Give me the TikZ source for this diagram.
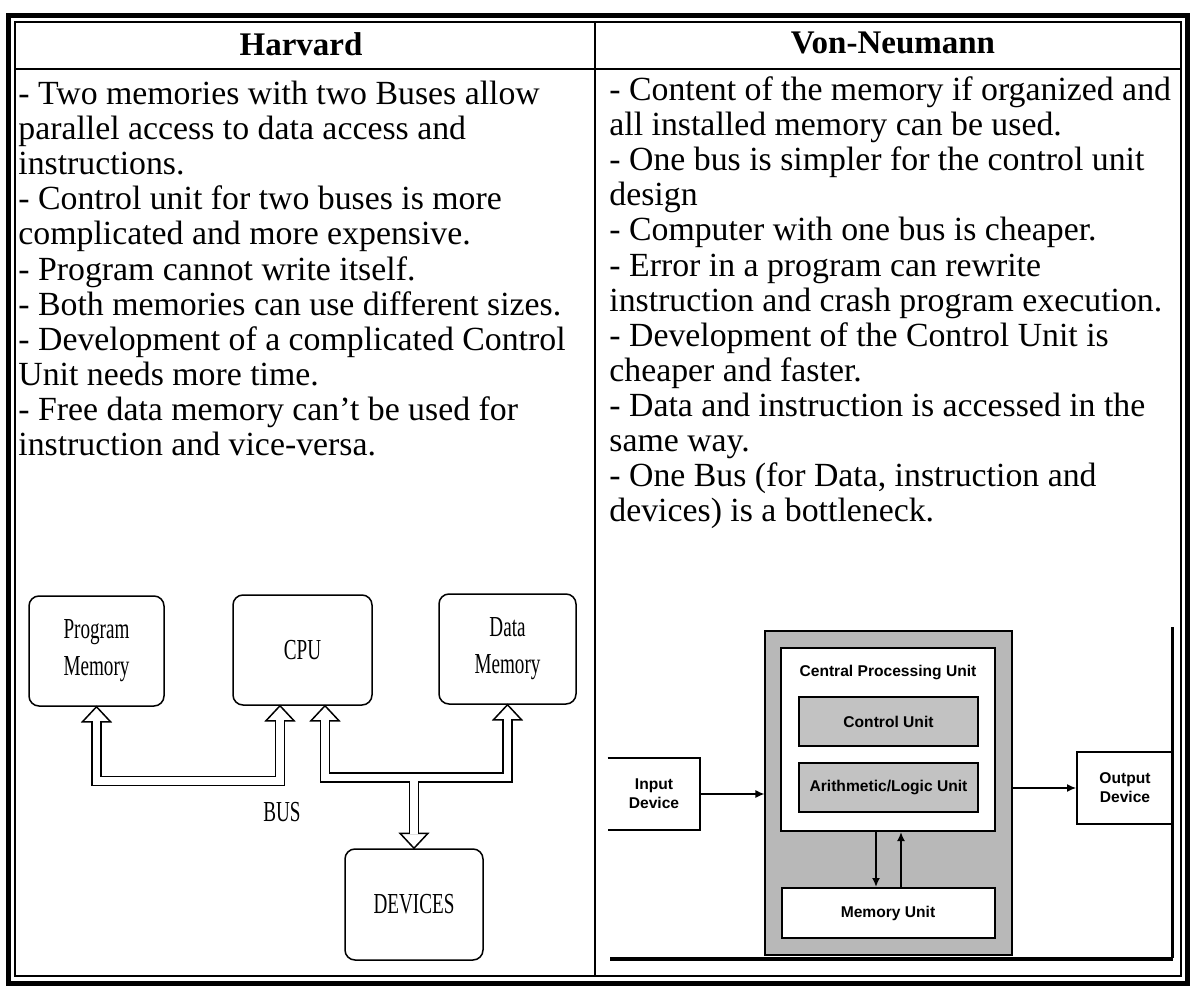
\documentclass[tikz,border=0pt]{standalone}
\usepackage{fontspec}
\setmainfont{Liberation Serif}
\setsansfont{Liberation Sans}
\newfontfamily\narrowserif[FakeStretch=0.66]{Liberation Serif}
\usetikzlibrary{calc,arrows.meta}
\definecolor{dither}{gray}{0.72}
\definecolor{ditherlight}{gray}{0.76}

\tikzset{
  framethick/.style={line width=2.5pt},
  rule/.style={line width=0.75pt},
  bodytext/.style={anchor=base west, inner sep=0pt, font=\fontsize{16.9}{17.5}\selectfont},
  hdr/.style={anchor=base, inner sep=0pt, font=\fontsize{16.5}{17.5}\selectfont\bfseries},
  hbox/.style={draw, line width=0.75pt, rounded corners=5pt, align=center,
    font=\fontsize{14.5}{18.5}\selectfont\narrowserif, inner sep=0pt},
  bushead/.style={draw, fill=white, line width=0.75pt, line join=miter},
  bus/.style={double, double distance=3.75pt, line width=0.75pt, line join=miter},
  vnbox/.style={draw, line width=1pt, inner sep=0pt, align=center,
    font=\fontsize{7.8}{9.5}\selectfont\sffamily\bfseries},
  vnlabel/.style={inner sep=0pt, align=center,
    font=\fontsize{7.8}{9.5}\selectfont\sffamily\bfseries},
  flow/.style={line width=0.6pt, -{Latex[length=4.5pt,width=4pt]}},
}

\begin{document}
\begin{tikzpicture}[x=0.5pt,y=-0.5pt]
\useasboundingbox (0,0) rectangle (1191,990);

% table frame: heavy outer border, thin inner border, column and header rules
\draw[framethick] (8,16) rectangle (1187,983);
\draw[rule] (15,22) rectangle (1181,976);
\draw[rule] (595,22) -- (595,976);
\draw[rule] (15,69) -- (1181,69);

% column headings
\node[hdr] (hv) at (301,56) {Harvard};
\node[hdr] (vn) at (893,54) {Von-Neumann};

% Harvard column text
\foreach \t [count=\i] in {
  {- Two memories with two Buses allow},
  {parallel access to data access and},
  {instructions.},
  {- Control unit for two buses is more},
  {complicated and more expensive.},
  {- Program cannot write itself.},
  {- Both memories can use different sizes.},
  {- Development of a complicated Control},
  {Unit needs more time.},
  {- Free data memory can't be used for},
  {instruction and vice-versa.}}{
  \node[bodytext] (harv\i) at (18,{104.6+35.1*(\i-1)}) {\t};
}

% Von-Neumann column text
\foreach \t [count=\i] in {
  {- Content of the memory if organized and},
  {all installed memory can be used.},
  {- One bus is simpler for the control unit},
  {design},
  {- Computer with one bus is cheaper.},
  {- Error in a program can rewrite},
  {instruction and crash program execution.},
  {- Development of the Control Unit is},
  {cheaper and faster.},
  {- Data and instruction is accessed in the},
  {same way.},
  {- One Bus (for Data, instruction and},
  {devices) is a bottleneck.}}{
  \node[bodytext] (vonn\i) at (609,{100.6+35.1*(\i-1)}) {\t};
}

% ---- Harvard block diagram ----
\node[hbox, minimum width=67.5pt, minimum height=55pt] (pm) at (96.5,651) {Program\\Memory};
\node[hbox, minimum width=69.5pt, minimum height=55pt] (cpu) at (302.5,650) {CPU};
\node[hbox, minimum width=68.5pt, minimum height=55pt] (dm) at (507.5,649) {Data\\Memory};
\node[hbox, minimum width=69pt, minimum height=55.5pt] (dev) at (414,904.5) {DEVICES};
\node[inner sep=0pt, font=\fontsize{14.5}{18.5}\selectfont\narrowserif] (buslbl) at (282,812) {BUS};

% open arrow heads of the two buses
\draw[bushead] (pm.south) -- ++(14,15) -- ++(-28,0) -- cycle;
\draw[bushead] ($(cpu.south)+(-22.5,0)$) -- ++(14,15) -- ++(-28,0) -- cycle;
\draw[bushead] ($(cpu.south)+(22.5,0)$) -- ++(14,15) -- ++(-28,0) -- cycle;
\draw[bushead] (dm.south) -- ++(14,15) -- ++(-28,0) -- cycle;
\draw[bushead] (dev.north) -- ++(14,-15) -- ++(-28,0) -- cycle;

% instruction bus: program memory <-> CPU
\draw[bus] ($(pm.south)+(0,14)$) |- ($(cpu.south)+(-22.5,75)$) -- ($(cpu.south)+(-22.5,14)$);
% data bus: CPU <-> data memory, branching to the devices
\draw[bus] ($(cpu.south)+(22.5,14)$) |- ($(dm.south)+(0,72.5)$) -- ($(dm.south)+(0,14)$)
           ($(dev.north)+(0,-72.5)$) -- ($(dev.north)+(0,-14)$);

% ---- Von-Neumann block diagram ----
\node[draw, line width=0.6pt, fill=dither, inner sep=0pt, minimum width=123.5pt, minimum height=162pt] (grey) at (888.5,793) {};
\node[draw, fill=white, line width=1pt, inner sep=0pt, minimum width=107pt, minimum height=91.5pt] (cpubox) at (888,739.5) {};
\node[vnlabel] (cputitle) at (888,672) {Central Processing Unit};
\node[vnbox, fill=ditherlight, minimum width=89.5pt, minimum height=24.5pt] (cu) at (888.5,721.5) {Control Unit};
\node[vnbox, fill=ditherlight, minimum width=89.5pt, minimum height=24.5pt] (alu) at (888.5,787.5) {Arithmetic/Logic Unit};
\node[vnbox, fill=white, minimum width=106.5pt, minimum height=25pt] (mem) at (888,913) {Memory Unit};

\node[vnlabel, minimum width=46pt, minimum height=36pt] (inp) at (654,794) {Input\\Device};
\draw[line width=1pt] (inp.north west) -- (inp.north east) -- (inp.south east) -- (inp.south west);
\node[vnbox, minimum width=48pt, minimum height=36pt] (outp) at (1125,788) {Output\\Device};

\draw[flow] (inp.east) -- (inp.east -| grey.west);
\draw[flow] (grey.east |- outp.west) -- (outp.west);
\draw[flow, line width=1pt] ($(cpubox.south)+(-12,0)$) -- ($(mem.north)+(-12,0)$);
\draw[flow, line width=1pt] ($(mem.north)+(13,0)$) -- ($(cpubox.south)+(13,0)$);

% figure rules around the Von-Neumann diagram
\draw[line width=1.5pt] (1172,627) -- (1172,958);
\draw[line width=2pt] (610,959) -- (1173,959);
\end{tikzpicture}
\end{document}
